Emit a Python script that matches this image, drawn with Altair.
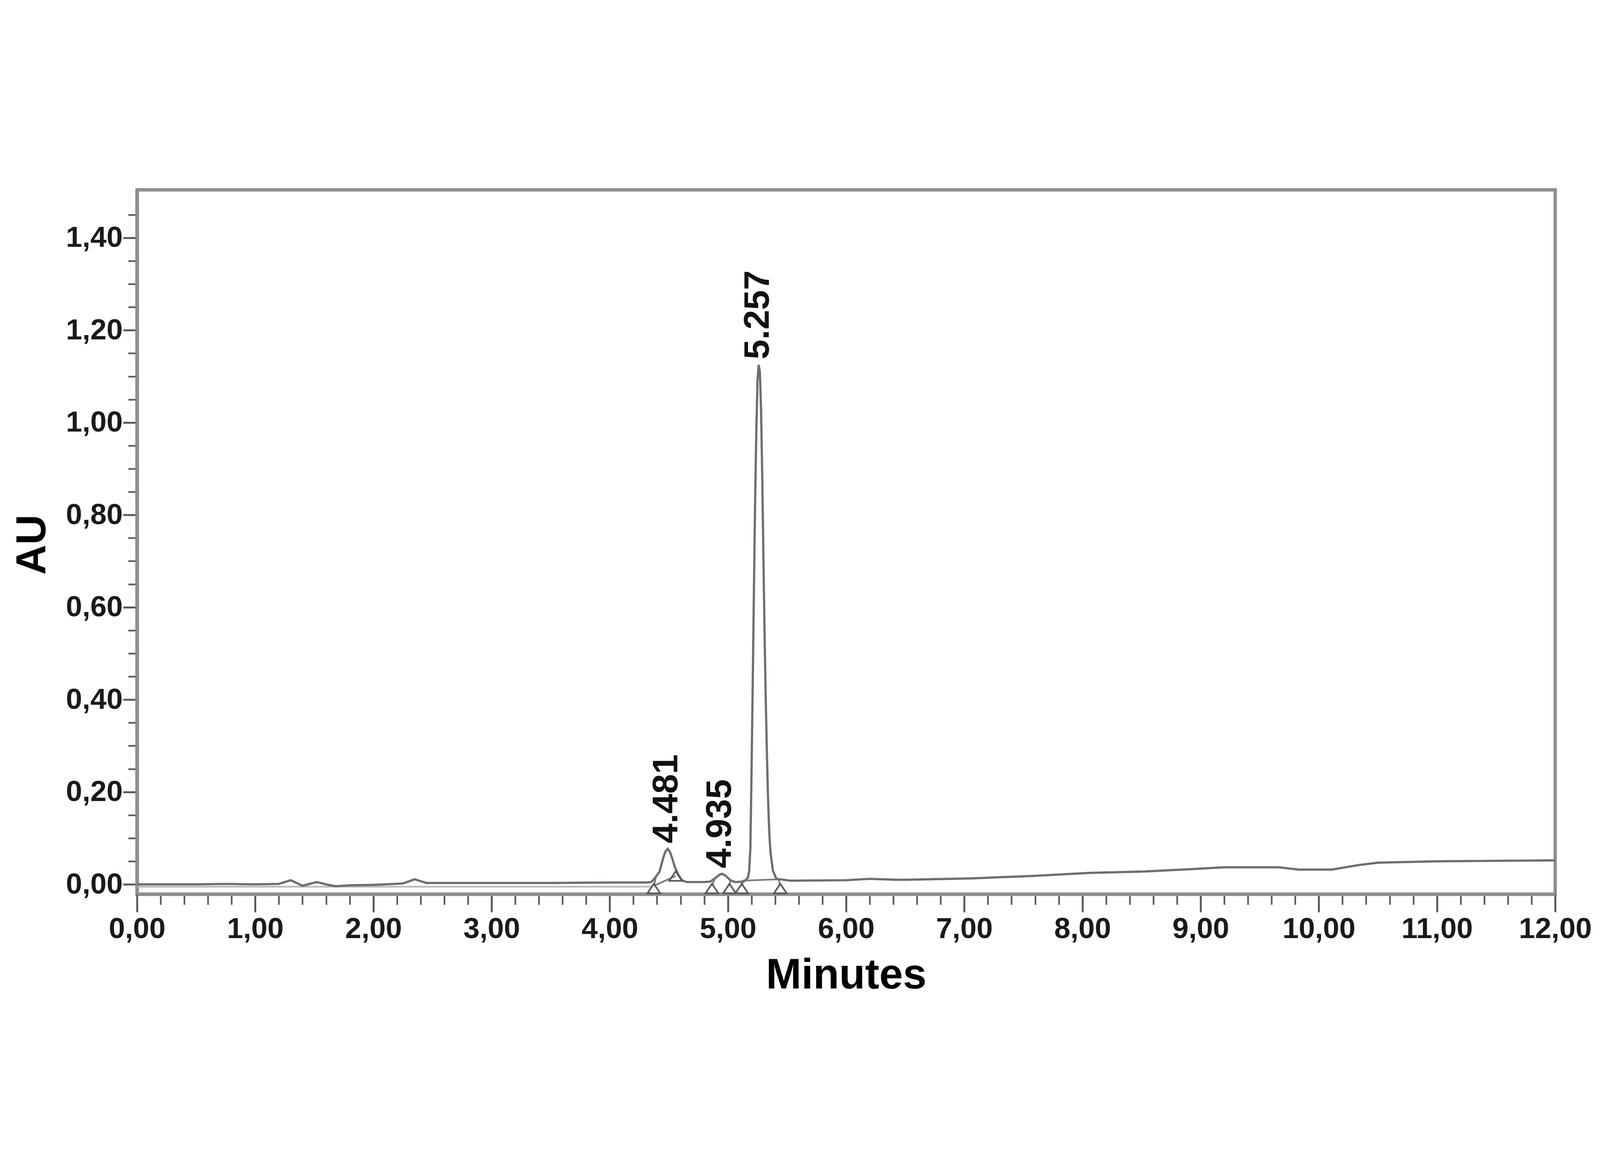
import altair as alt
import pandas as pd

# ---- chromatogram trace (minutes, AU) ----
time = [0.00, 0.50, 0.75, 1.00, 1.20, 1.30, 1.40, 1.52, 1.60, 1.68, 1.80, 2.00,
        2.10, 2.25, 2.35, 2.45, 2.80, 3.50, 4.00, 4.30, 4.35, 4.38, 4.42, 4.45,
        4.47, 4.49, 4.51, 4.53, 4.55, 4.58, 4.61, 4.65, 4.80, 4.85, 4.89, 4.93,
        4.95, 4.98, 5.02, 5.06, 5.12, 5.14, 5.17, 5.18, 5.19, 5.20, 5.21, 5.22,
        5.23, 5.24, 5.25, 5.26, 5.27, 5.28, 5.29, 5.30, 5.31, 5.32, 5.33, 5.34,
        5.35, 5.36, 5.38, 5.41, 5.53, 6.00, 6.20, 6.43, 6.50, 7.06, 7.56, 8.07,
        8.53, 8.92, 9.20, 9.66, 9.83, 10.11, 10.34, 10.50, 11.00, 12.00]
au = [0.000, 0.000, 0.001, 0.000, 0.001, 0.009, -0.003, 0.005, 0.000, -0.004, -0.002, -0.001,
      0.000, 0.002, 0.011, 0.003, 0.003, 0.003, 0.004, 0.004, 0.005, 0.013, 0.027, 0.055,
      0.071, 0.077, 0.070, 0.055, 0.038, 0.021, 0.009, 0.005, 0.005, 0.006, 0.013, 0.021,
      0.023, 0.019, 0.009, 0.005, 0.006, 0.007, 0.015, 0.030, 0.080, 0.250, 0.440, 0.640,
      0.830, 0.980, 1.090, 1.125, 1.110, 1.030, 0.890, 0.710, 0.540, 0.400, 0.280, 0.180,
      0.110, 0.070, 0.030, 0.012, 0.008, 0.009, 0.012, 0.010, 0.010, 0.013, 0.018, 0.025,
      0.028, 0.033, 0.037, 0.037, 0.032, 0.032, 0.042, 0.047, 0.050, 0.052]

# ---- peak labels ----
peak_rt = [4.481, 4.935, 5.257]
peak_h = [0.077, 0.023, 1.125]
peak_lbl = ["4.481", "4.935", "5.257"]

# ---- integration markers (triangles) ----
mark_t = [4.373, 4.557, 4.865, 5.013, 5.117, 5.443]
mark_au = [-0.009, 0.018, -0.009, -0.009, -0.009, -0.009]

# ---- integration / drop segments ----
seg_x1 = [4.373, 4.373, 4.865, 5.013, 5.117, 5.120, 5.443]
seg_y1 = [-0.003, -0.003, -0.003, -0.003, -0.003, 0.008, -0.003]
seg_x2 = [4.390, 4.557, 4.890, 5.020, 5.130, 5.440, 5.430]
seg_y2 = [0.015, 0.018, 0.013, 0.009, 0.007, 0.011, 0.010]

# ---- faint lower baseline ----
base_x1 = [0.0]
base_x2 = [4.35]
base_y = [-0.005]

x_major = [0, 1, 2, 3, 4, 5, 6, 7, 8, 9, 10, 11, 12]
y_major = [0.0, 0.2, 0.4, 0.6, 0.8, 1.0, 1.2, 1.4]
x_minor = [round(i * 0.2, 2) for i in range(1, 60) if i % 5 != 0]
y_minor = [round(i * 0.05, 2) for i in range(1, 30) if i % 4 != 0]

trace_df = pd.DataFrame({"t": time, "au": au})
peaks_df = pd.DataFrame({"t": peak_rt, "au": peak_h, "lbl": peak_lbl})
marks_df = pd.DataFrame({"t": mark_t, "au": mark_au})
seg_df = pd.DataFrame({"x1": seg_x1, "y1": seg_y1, "x2": seg_x2, "y2": seg_y2})
base_df = pd.DataFrame({"x1": base_x1, "x2": base_x2, "y": base_y})

FONT = "Liberation Sans"
xs = alt.Scale(domain=[0, 12], nice=False, zero=False)
ys = alt.Scale(domain=[-0.021, 1.504], nice=False, zero=False)
comma = "replace(format(datum.value, '.2f'), '.', ',')"

x_axis_major = alt.Axis(
    orient="bottom", values=x_major, labelExpr=comma, grid=False,
    tickSize=65, tickWidth=7, tickColor="#5a5a5a",
    domainColor="#8f8f8f", domainWidth=13,
    labelFont=FONT, labelFontWeight="bold", labelFontSize=105, labelColor="#1a1a1a",
    labelPadding=10, labelFlush=False, labelOverlap=False, labelLimit=0,
    title="Minutes", titleFont=FONT, titleFontWeight="bold", titleFontSize=153,
    titleColor="#000000", titleBaseline="alphabetic", titleAlign="center",
    titleX=2552, titleY=340, titleLimit=0,
)
x_axis_minor = alt.Axis(
    orient="bottom", values=x_minor, labels=False, domain=False, grid=False,
    tickSize=38, tickWidth=6, tickColor="#5a5a5a", title=None,
)
y_axis_major = alt.Axis(
    orient="left", values=y_major, labelExpr=comma, grid=False,
    tickSize=50, tickWidth=7, tickColor="#5a5a5a",
    domainColor="#8f8f8f", domainWidth=13,
    labelFont=FONT, labelFontWeight="bold", labelFontSize=105, labelColor="#1a1a1a",
    labelPadding=2, labelFlush=False, labelOverlap=False, labelLimit=0,
    title="AU", titleFont=FONT, titleFontWeight="bold", titleFontSize=150,
    titleColor="#000000", titleAngle=270, titleBaseline="alphabetic",
    titleAlign="center", titleX=-330, titleY=1277, titleLimit=0,
)
y_axis_minor = alt.Axis(
    orient="left", values=y_minor, labels=False, domain=False, grid=False,
    tickSize=32, tickWidth=6, tickColor="#5a5a5a", title=None,
)

base_layer = alt.Chart(base_df).mark_rule(color="#b8b8b8", strokeWidth=6).encode(
    x=alt.X("x1:Q", scale=xs, axis=x_axis_minor),
    x2="x2:Q",
    y=alt.Y("y:Q", scale=ys, axis=y_axis_minor),
)

seg_layer = alt.Chart(seg_df).mark_rule(color="#7a7a7a", strokeWidth=6).encode(
    x=alt.X("x1:Q", scale=xs, axis=None),
    x2="x2:Q",
    y=alt.Y("y1:Q", scale=ys, axis=None),
    y2="y2:Q",
)

trace_layer = alt.Chart(trace_df).mark_line(color="#6e6e6e", strokeWidth=8).encode(
    x=alt.X("t:Q", scale=xs, axis=x_axis_major),
    y=alt.Y("au:Q", scale=ys, axis=y_axis_major),
    order="t:Q",
)

tri_layer = alt.Chart(marks_df).mark_point(
    shape="M0,-0.75L-1,0.75L1,0.75Z", size=2116, filled=False,
    color="#5a5a5a", strokeWidth=6, opacity=1,
).encode(
    x=alt.X("t:Q", scale=xs, axis=None),
    y=alt.Y("au:Q", scale=ys, axis=None),
)

label_layer = alt.Chart(peaks_df).mark_text(
    angle=270, align="left", baseline="middle", dx=20,
    font=FONT, fontWeight="bold", fontSize=128, color="#111111",
).encode(
    x=alt.X("t:Q", scale=xs, axis=None),
    y=alt.Y("au:Q", scale=ys, axis=None),
    text="lbl:N",
)

chart = alt.layer(
    base_layer, seg_layer, trace_layer, tri_layer, label_layer
).resolve_axis(
    x="independent", y="independent"
).properties(
    width=5104, height=2535,
    autosize=alt.AutoSizeParams(type="none"),
    padding={"left": 482, "top": 67, "right": 150, "bottom": 380},
    background="#ffffff",
).configure_view(
    stroke="#8f8f8f", strokeWidth=12
)

chart.save("out.html", embed_options={"renderer": "svg", "actions": False})
